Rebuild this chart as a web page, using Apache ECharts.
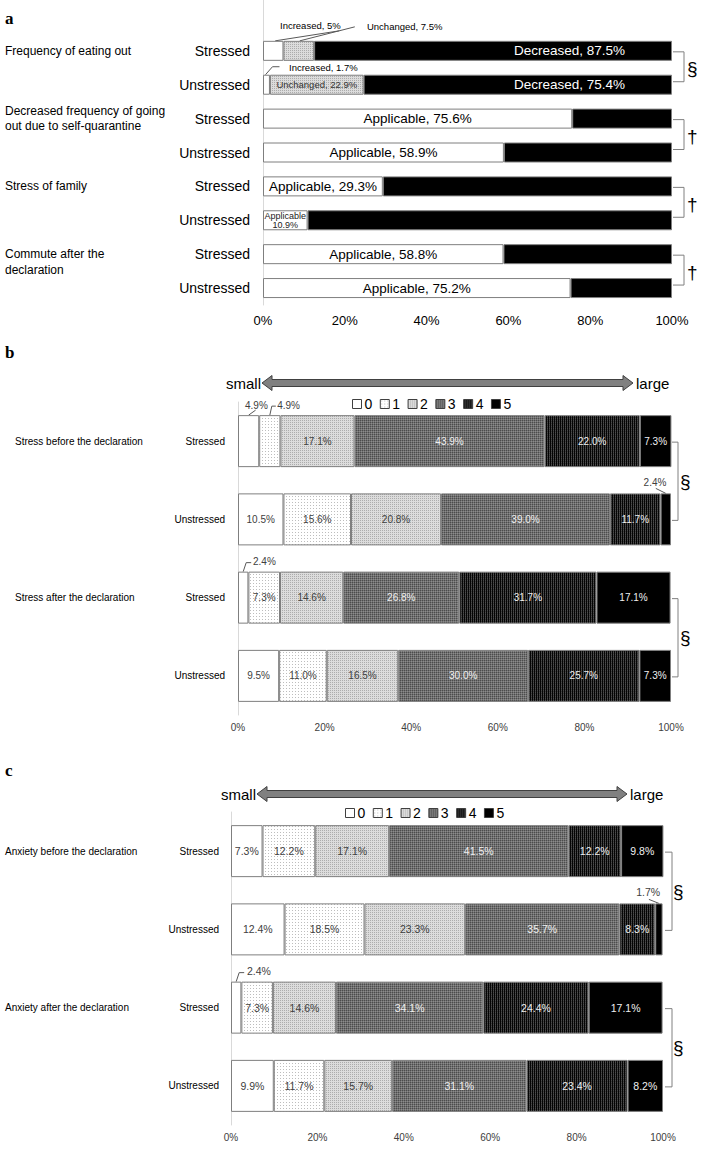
<!DOCTYPE html>
<html><head><meta charset="utf-8">
<script src="https://cdn.jsdelivr.net/npm/echarts@6/dist/echarts.min.js"></script>
<style>html,body{margin:0;padding:0;background:#fff}#c{width:709px;height:1149px}</style>
</head><body><div id="c"></div>
<script>
// ---------------- DATA ----------------
// Panel a
const aRows = ['Stressed','Unstressed','Stressed','Unstressed','Stressed','Unstressed','Stressed','Unstressed'];
const aTopics = ['Frequency of eating out','Decreased frequency of going\nout due to self-quarantine','Stress of family','Commute after the\ndeclaration'];
const aIncreased = [5, 1.7];
const aUnchanged = [7.5, 22.9];
const aDecreased = [87.5, 75.4];
const aApplicable = [75.6, 58.9, 29.3, 10.9, 58.8, 75.2];
const aNotApplicable = [24.4, 41.1, 70.7, 89.1, 41.2, 24.8];
const aMarks = ['§','†','†','†'];
const aTicks = ['0%','20%','40%','60%','80%','100%'];
// Panels b, c
const levels = ['0','1','2','3','4','5'];
const bcRows = ['Stressed','Unstressed','Stressed','Unstressed'];
const bTopics = ['Stress before the declaration','Stress after the declaration'];
const cTopics = ['Anxiety before the declaration','Anxiety after the declaration'];
const bStressedBefore   = [4.9, 4.9, 17.1, 43.9, 22.0, 7.3];
const bUnstressedBefore = [10.5, 15.6, 20.8, 39.0, 11.7, 2.4];
const bStressedAfter    = [2.4, 7.3, 14.6, 26.8, 31.7, 17.1];
const bUnstressedAfter  = [9.5, 11.0, 16.5, 30.0, 25.7, 7.3];
const cStressedBefore   = [7.3, 12.2, 17.1, 41.5, 12.2, 9.8];
const cUnstressedBefore = [12.4, 18.5, 23.3, 35.7, 8.3, 1.7];
const cStressedAfter    = [2.4, 7.3, 14.6, 34.1, 24.4, 17.1];
const cUnstressedAfter  = [9.9, 11.7, 15.7, 31.1, 23.4, 8.2];
const bcMarks = ['§','§'];

// ---------------- STYLE ----------------
const FONT = "'Liberation Sans', Arial, sans-serif";
const SERIF = "'Liberation Serif', 'Times New Roman', serif";
function pattern(w, h, bg, dots) {
  const c = document.createElement('canvas'); c.width = w; c.height = h;
  const ctx = c.getContext('2d'); ctx.fillStyle = bg; ctx.fillRect(0, 0, w, h);
  dots.forEach(d => { ctx.fillStyle = d[2]; ctx.fillRect(d[0], d[1], 1, 1); });
  return { image: c.toDataURL(), repeat: 'repeat', imageWidth: w, imageHeight: h };
}
const levelFill = [
  '#ffffff',
  pattern(3, 3, '#ffffff', [[1,1,'#bdbdbd']]),
  pattern(2, 2, '#dcdcdc', [[0,0,'#acacac']]),
  pattern(2, 2, '#707070', [[0,0,'#4c4c4c'],[1,1,'#8c8c8c']]),
  pattern(2, 2, '#050505', [[1,0,'#4d4d4d'],[1,1,'#3a3a3a']]),
  '#000000'
];
const labelColor = ['#404040','#404040','#404040','#f0f0f0','#f0f0f0','#f0f0f0'];
const BORDER = '#7f7f7f';
// outside label positions (px offsets from the segment's top-left): key "row-level"
const outsideB = {'0-0':[7,-10], '0-1':[18,-10], '1-5':[-17,-11], '2-0':[15,-10]};
const outsideC = {'1-5':[-19,-11], '2-0':[16,-11]};

// ---------------- OPTION ----------------
const aCats = [''].concat(aRows);
function padA(vals, start) { const arr = new Array(aCats.length).fill(null); vals.forEach((v, i) => arr[start + i] = v); return arr; }
function fmtA(v) { return Math.abs(v - Math.round(v)) < 1e-9 ? String(Math.round(v)) : v.toFixed(1); }

const series = [];
const aBase = { type: 'bar', stack: 'a', xAxisIndex: 0, yAxisIndex: 0, barWidth: 20, animation: false };
series.push(Object.assign({}, aBase, {
  name: 'Increased',
  itemStyle: { color: '#ffffff', borderColor: BORDER, borderWidth: 1 },
  label: { show: true, fontFamily: FONT, fontSize: 9.5, color: '#000', align: 'left', verticalAlign: 'middle',
           formatter: p => 'Increased, ' + fmtA(p.value) + '%' },
  data: padA(aIncreased, 1).map((v, i) => v == null ? null :
        { value: v, label: { position: i === 1 ? [17, -15] : [26, -7] } })
}));
series.push(Object.assign({}, aBase, {
  name: 'Unchanged',
  itemStyle: { color: levelFill[2], borderColor: BORDER, borderWidth: 1 },
  label: { show: true, fontFamily: FONT, fontSize: 9.5, color: '#000',
           formatter: p => 'Unchanged, ' + fmtA(p.value) + '%' },
  data: padA(aUnchanged, 1).map((v, i) => v == null ? null :
        (i === 1 ? { value: v, label: { position: [83.5, -14], align: 'left', verticalAlign: 'middle' } }
                 : { value: v, label: { position: 'inside', color: '#333' } }))
}));
series.push(Object.assign({}, aBase, {
  name: 'Decreased',
  itemStyle: { color: '#000000', borderColor: BORDER, borderWidth: 1 },
  label: { show: true, position: 'insideRight', distance: 47, fontFamily: FONT, fontSize: 13.5, color: '#fff',
           formatter: p => 'Decreased, ' + fmtA(p.value) + '%' },
  data: padA(aDecreased, 1)
}));
series.push(Object.assign({}, aBase, {
  name: 'Applicable',
  itemStyle: { color: '#ffffff', borderColor: BORDER, borderWidth: 1 },
  label: { show: true, position: 'inside', fontFamily: FONT, fontSize: 13.5, color: '#000',
           formatter: p => p.value < 15 ? 'Applicable\n' + fmtA(p.value) + '%' : 'Applicable, ' + fmtA(p.value) + '%' },
  data: padA(aApplicable, 3).map(v => v == null ? null :
        (v < 15 ? { value: v, label: { fontSize: 9, lineHeight: 9, color: '#222' } } : v))
}));
series.push(Object.assign({}, aBase, {
  name: 'Not applicable',
  itemStyle: { color: '#000000', borderColor: BORDER, borderWidth: 1 },
  data: padA(aNotApplicable, 3)
}));

function addLevelSeries(rows, k, outside, fs) {
  levels.forEach((lv, li) => {
    series.push({
      type: 'bar', name: lv, stack: 'p' + k, xAxisIndex: k, yAxisIndex: k, barWidth: 52, animation: false,
      itemStyle: { color: levelFill[li], borderColor: BORDER, borderWidth: 1 },
      label: { show: true, position: 'inside', fontFamily: FONT, fontSize: fs, color: labelColor[li],
               formatter: p => p.value.toFixed(1) + '%' },
      data: rows.map((r, ri) => {
        const pos = outside[ri + '-' + li];
        return pos ? { value: r[li], label: { position: pos, align: 'left', verticalAlign: 'middle', color: '#404040' } } : r[li];
      })
    });
  });
}
addLevelSeries([bStressedBefore, bUnstressedBefore, bStressedAfter, bUnstressedAfter], 1, outsideB, 10);
addLevelSeries([cStressedBefore, cUnstressedBefore, cStressedAfter, cUnstressedAfter], 2, outsideC, 10.5);

function xAxisCfg(k, fs, margin, color) {
  return { gridIndex: k, type: 'value', min: 0, max: 100, interval: 20,
    axisLine: { show: false }, axisTick: { show: false }, splitLine: { show: false },
    axisLabel: { fontFamily: FONT, fontSize: fs, color: color, margin: margin, formatter: '{value}%' } };
}
function yAxisCfg(k, cats, fs, margin) {
  return { gridIndex: k, type: 'category', inverse: true, data: cats,
    axisLine: { show: true, lineStyle: { color: '#d9d9d9', width: 1 } }, axisTick: { show: false },
    axisLabel: { fontFamily: FONT, fontSize: fs, color: '#000', margin: margin } };
}
function legendCfg(left, top) {
  return { left: left, top: top, orient: 'horizontal', data: levels, icon: 'rect', itemWidth: 9, itemHeight: 9,
    itemGap: 7.5, selectedMode: false, padding: 0,
    itemStyle: { borderColor: '#404040', borderWidth: 1 },
    textStyle: { fontFamily: FONT, fontSize: 14, color: '#000', padding: [0, 0, 0, -2] } };
}

const option = {
  backgroundColor: '#ffffff',
  animation: false,
  grid: [
    { left: 263, right: 37, top: 0, height: 305 },
    { left: 238, right: 38, top: 402, height: 313 },
    { left: 231, right: 46, top: 812, height: 313 }
  ],
  xAxis: [ xAxisCfg(0, 13, 9, '#000'), xAxisCfg(1, 10, 7, '#404040'), xAxisCfg(2, 10, 7, '#404040') ],
  yAxis: [ yAxisCfg(0, aCats, 14, 13), yAxisCfg(1, bcRows, 10, 13), yAxisCfg(2, bcRows, 10, 12) ],
  legend: [ legendCfg(352, 397), legendCfg(345, 806) ],
  series: series
};

const chart = echarts.init(document.getElementById('c'), null, { renderer: 'svg', width: 709, height: 1149 });
chart.setOption(option);

// ---------------- ANNOTATIONS (positions derived from the axes) ----------------
function P(k, v, r) { return chart.convertToPixel({ xAxisIndex: k, yAxisIndex: k }, [v, r]); }
function mid(arr, li) { let s = 0; for (let i = 0; i < li; i++) s += arr[i]; return s + arr[li] / 2; }
const g = [];
function txt(s, x, y, size, opts) {
  g.push(Object.assign({ type: 'text', silent: true, style: Object.assign({ text: s, x: x, y: y, fill: '#000',
    font: size + 'px ' + FONT, textAlign: 'left', textVerticalAlign: 'middle' }, opts || {}) }));
}
function line(points, color) {
  g.push({ type: 'polyline', silent: true, shape: { points: points }, style: { fill: null, stroke: color || '#595959', lineWidth: 1 } });
}
// panel letters
[['a', 18], ['b', 352], ['c', 770]].forEach(t => txt(t[0], 5, t[1], 17, { font: 'bold 17px ' + SERIF }));
// topic labels
const aTopicDy = [0, 0, 0, 8];
aTopics.forEach((t, i) => { const y = P(0, 0, 1 + 2 * i)[1]; txt(t, 5, y + aTopicDy[i], 12, { lineHeight: 15.5 }); });
bTopics.forEach((t, i) => { const y = P(1, 0, 2 * i)[1]; txt(t, 15, y, 10); });
cTopics.forEach((t, i) => { const y = P(2, 0, 2 * i)[1]; txt(t, 5, y, 10); });
// brackets
aMarks.forEach((m, i) => {
  const p0 = P(0, 100, 1 + 2 * i), p1 = P(0, 100, 2 + 2 * i);
  const x0 = p0[0] + 1, x1 = p0[0] + 12, y0 = p0[1] + 1, y1 = p1[1] - 3;
  line([[x0, y0], [x1, y0], [x1, y1], [x0, y1]], '#808080');
  txt(m, x1 + 3, (y0 + y1) / 2 + 2, 19);
});
[[1, 1, 7, 2], [2, 2, 9, 1]].forEach(cfg => {
  const k = cfg[0];
  bcMarks.forEach((m, i) => {
    const p0 = P(k, 100, 2 * i), p1 = P(k, 100, 2 * i + 1);
    const x0 = p0[0] + cfg[1], x1 = p0[0] + cfg[2], y0 = p0[1] + 1, y1 = p1[1] + 1;
    line([[x0, y0], [x1, y0], [x1, y1], [x0, y1]], '#808080');
    txt(m, x1 + cfg[3], (y0 + y1) / 2, 19);
  });
});
// leader lines for outside labels
function leader(k, v, r, bw, rel) {
  const p = P(k, v, r); const top = p[1] - bw / 2;
  line(rel.map(d => [p[0] + d[0], top + d[1]]), '#595959');
}
leader(0, aIncreased[0] / 2, 1, 20, [[2, 0], [66, -10]]);
leader(0, aIncreased[0] + aUnchanged[0] / 2, 1, 20, [[1, 0], [56, -14]]);
leader(0, aIncreased[1] / 2, 2, 20, [[-1, 0], [6, -8], [13, -8]]);
leader(1, mid(bStressedBefore, 0), 0, 52, [[0, 0], [7, -5]]);
leader(1, mid(bStressedBefore, 1), 0, 52, [[0, 0], [2, -9], [6, -9]]);
leader(1, mid(bUnstressedBefore, 5), 1, 52, [[0, 0], [-10, -5]]);
leader(1, mid(bStressedAfter, 0), 2, 52, [[0, 0], [3, -9], [8, -9]]);
leader(2, mid(cUnstressedBefore, 5), 1, 52, [[0, 0], [-10, -4]]);
leader(2, mid(cStressedAfter, 0), 2, 52, [[0, 0], [3, -9], [8, -9]]);
// small <-> large arrows
function arrow(L, R, y) {
  const hl = 10, hh = 7.5, sh = 3.5;
  g.push({ type: 'polygon', silent: true, shape: { points: [[L, y], [L + hl, y - hh], [L + hl, y - sh], [R - hl, y - sh], [R - hl, y - hh],
    [R, y], [R - hl, y + hh], [R - hl, y + sh], [L + hl, y + sh], [L + hl, y + hh]] },
    style: { fill: '#808080', stroke: '#404040', lineWidth: 1 } });
  txt('small', L - 1, y, 15, { textAlign: 'right' });
  txt('large', R + 3, y, 15);
}
arrow(262, 633, 383);
arrow(257, 627, 794);
chart.setOption({ graphic: { elements: g } });
</script>
</body></html>
